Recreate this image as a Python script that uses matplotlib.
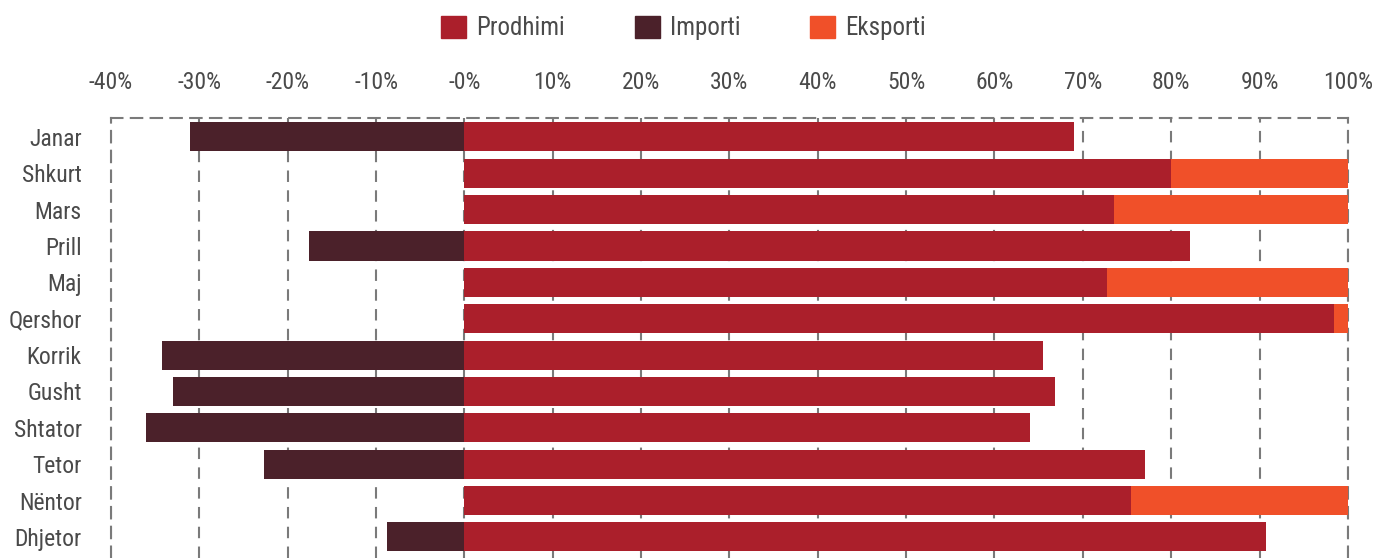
import matplotlib.pyplot as plt
from matplotlib.patches import Patch

# Monthly shares, percent of consumption
months = ['Janar', 'Shkurt', 'Mars', 'Prill', 'Maj', 'Qershor',
          'Korrik', 'Gusht', 'Shtator', 'Tetor', 'Nëntor', 'Dhjetor']
prodhimi = [69.0, 80.0, 73.5, 82.1, 72.7, 98.4, 65.5, 66.9, 64.0, 77.0, 75.5, 90.7]
importi = [-31.0, 0, 0, -17.6, 0, 0, -34.2, -33.0, -36.0, -22.7, 0, -8.8]
eksporti = [0, 20.0, 26.5, 0, 27.3, 1.6, 0, 0, 0, 0, 24.5, 0]
tick_vals = list(range(-40, 101, 10))
tick_labels = ['-40%', '-30%', '-20%', '-10%', '-0%', '10%', '20%', '30%',
               '40%', '50%', '60%', '70%', '80%', '90%', '100%']

c_prod = '#ab1f2b'
c_imp = '#4b212a'
c_eks = '#f05029'
txt = '#4a4a4a'
grid_c = '#7a7a7a'
dash = (0, (5.5, 4))

plt.rcParams['font.family'] = ['Roboto Condensed', 'DejaVu Sans']

fig = plt.figure(figsize=(13.75, 5.58), dpi=100)
ax = fig.add_axes([0.0807, 0.0, 0.8996, 0.7885])

y = list(range(len(months)))
h = 0.8
ax.barh(y, prodhimi, height=h, color=c_prod, zorder=3)
ax.barh(y, importi, height=h, color=c_imp, zorder=3)
ax.barh(y, eksporti, left=prodhimi, height=h, color=c_eks, zorder=3)

ax.set_xlim(-40, 100)
ax.set_ylim(11.58, -0.52)

ax.xaxis.tick_top()
ax.set_xticks(tick_vals)
ax.set_xticklabels(tick_labels, fontsize=17, color=txt)
ax.set_yticks(y)
ax.set_yticklabels(months, fontsize=17, color=txt)
ax.tick_params(axis='both', length=0)
ax.tick_params(axis='x', pad=17)
ax.tick_params(axis='y', pad=21)

ax.grid(axis='x', color=grid_c, linestyle=dash, linewidth=1.5, zorder=1)
for side in ['top', 'left', 'right']:
    ax.spines[side].set_color(grid_c)
    ax.spines[side].set_linestyle(dash)
    ax.spines[side].set_linewidth(1.5)
ax.spines['bottom'].set_visible(False)

handles = [Patch(color=c_prod, label='Prodhimi'),
           Patch(color=c_imp, label='Importi'),
           Patch(color=c_eks, label='Eksporti')]
leg = fig.legend(handles=handles, loc='center', bbox_to_anchor=(0.497, 0.95),
                 ncol=3, frameon=False, fontsize=18, handlelength=1.0,
                 handleheight=1.0, handletextpad=0.4, columnspacing=2.8)
for t in leg.get_texts():
    t.set_color(txt)

fig.savefig('out.png', dpi=100)
